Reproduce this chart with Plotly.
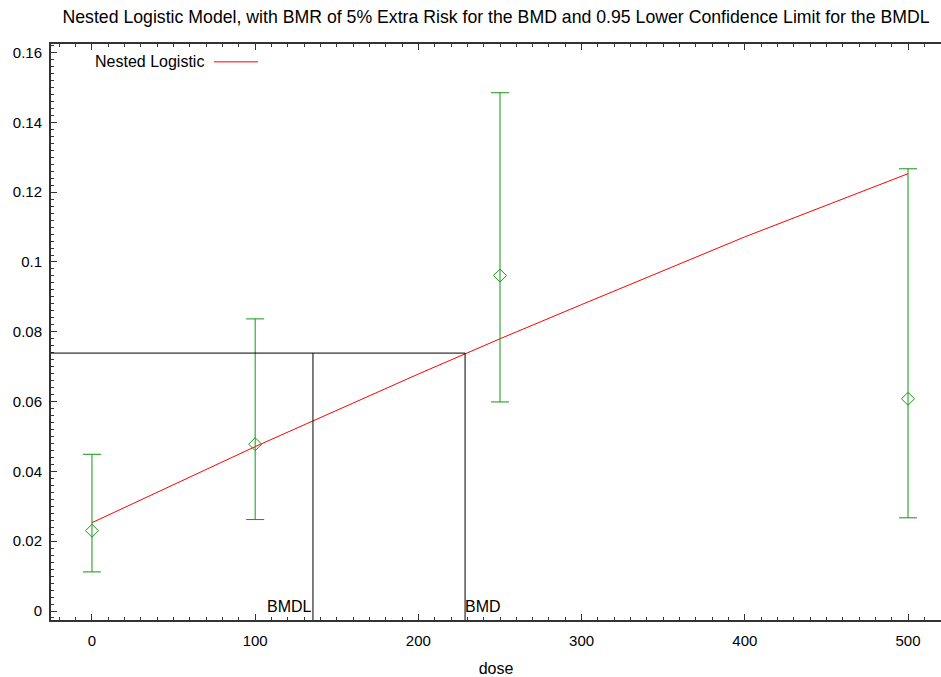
import plotly.graph_objects as go

# Observed response with confidence limits
dose = [0, 100, 250, 500]
response = [0.0230, 0.0478, 0.0961, 0.0608]
ci_upper = [0.0449, 0.0837, 0.1485, 0.1267]
ci_lower = [0.0112, 0.0262, 0.0599, 0.0267]

# Fitted nested logistic curve
model_dose = [0, 100, 200, 250, 300, 400, 500]
model_resp = [0.0253, 0.0471, 0.0679, 0.0780, 0.0878, 0.1072, 0.1253]

# Benchmark dose results
bmr_level = 0.0739
bmd = 228.6
bmdl = 135.4

x_range = [-25.1, 520.2]
y_range = [-0.00258, 0.16246]

font = "Liberation Sans, Arial, sans-serif"
green = "rgb(20,150,20)"

fig = go.Figure()

fig.add_trace(go.Scatter(
    x=model_dose, y=model_resp, mode="lines",
    line=dict(color="red", width=1), showlegend=False,
))

fig.add_trace(go.Scatter(
    x=dose, y=response, mode="markers",
    marker=dict(symbol="diamond-open", size=10, color=green, line=dict(width=1, color=green)),
    error_y=dict(
        type="data", symmetric=False,
        array=[u - m for u, m in zip(ci_upper, response)],
        arrayminus=[m - l for m, l in zip(response, ci_lower)],
        color=green, thickness=1, width=9,
    ),
    showlegend=False,
))

line_style = dict(color="black", width=1)
fig.add_shape(type="line", xref="x", yref="y", x0=x_range[0], x1=bmd, y0=bmr_level, y1=bmr_level, line=line_style)
fig.add_shape(type="line", xref="x", yref="y", x0=bmdl, x1=bmdl, y0=y_range[0], y1=bmr_level, line=line_style)
fig.add_shape(type="line", xref="x", yref="y", x0=bmd, x1=bmd, y0=y_range[0], y1=bmr_level, line=line_style)

fig.add_annotation(x=bmdl, y=0, xref="x", yref="y", text="BMDL", showarrow=False,
                   xanchor="right", yanchor="middle", yshift=5, xshift=1,
                   font=dict(family=font, size=16, color="black"))
fig.add_annotation(x=bmd, y=0, xref="x", yref="y", text="BMD", showarrow=False,
                   xanchor="left", yanchor="middle", yshift=5, xshift=-2,
                   font=dict(family=font, size=16, color="black"))

# Legend entry: label followed by line sample
fig.add_annotation(x=0.0494, y=0.969, xref="paper", yref="paper", text="Nested Logistic",
                   showarrow=False, xanchor="left", yanchor="middle", xshift=-2,
                   font=dict(family=font, size=16, color="black"))
fig.add_shape(type="line", xref="paper", yref="paper", x0=0.1831, x1=0.2326, y0=0.969, y1=0.969,
              line=dict(color="red", width=1))

axis_common = dict(
    showgrid=False, zeroline=False, showline=True, linecolor="#333", linewidth=2,
    ticks="inside", tickcolor="#333", tickwidth=1,
    tickfont=dict(family=font, size=15, color="black"),
)

fig.update_xaxes(
    range=x_range, tickvals=[0, 100, 200, 300, 400, 500], ticklen=6,
    mirror="ticks", ticklabelstandoff=6,
    minor=dict(dtick=10, tick0=0, ticks="inside", ticklen=3, tickcolor="#333"),
    title=dict(text="dose", font=dict(family=font, size=16, color="black"), standoff=16),
    **axis_common,
)
fig.update_yaxes(
    range=y_range, tickvals=[0, 0.02, 0.04, 0.06, 0.08, 0.1, 0.12, 0.14, 0.16],
    ticktext=["0", "0.02", "0.04", "0.06", "0.08", "0.1", "0.12", "0.14", "0.16"],
    ticklen=6, mirror=False, ticklabelstandoff=4,
    minor=dict(dtick=0.002, tick0=0, ticks="inside", ticklen=3, tickcolor="#333"),
    **axis_common,
)

fig.update_layout(
    width=941, height=677,
    margin=dict(l=51, r=0, t=44, b=57),
    paper_bgcolor="white", plot_bgcolor="white",
    title=dict(
        text="Nested Logistic Model, with BMR of 5% Extra Risk for the BMD and 0.95 Lower Confidence Limit for the BMDL",
        xref="paper", x=0.5, xanchor="center", y=0.975, yanchor="middle",
        font=dict(family=font, size=17.7, color="black"),
    ),
    showlegend=False,
)

fig.write_html("out.html")
